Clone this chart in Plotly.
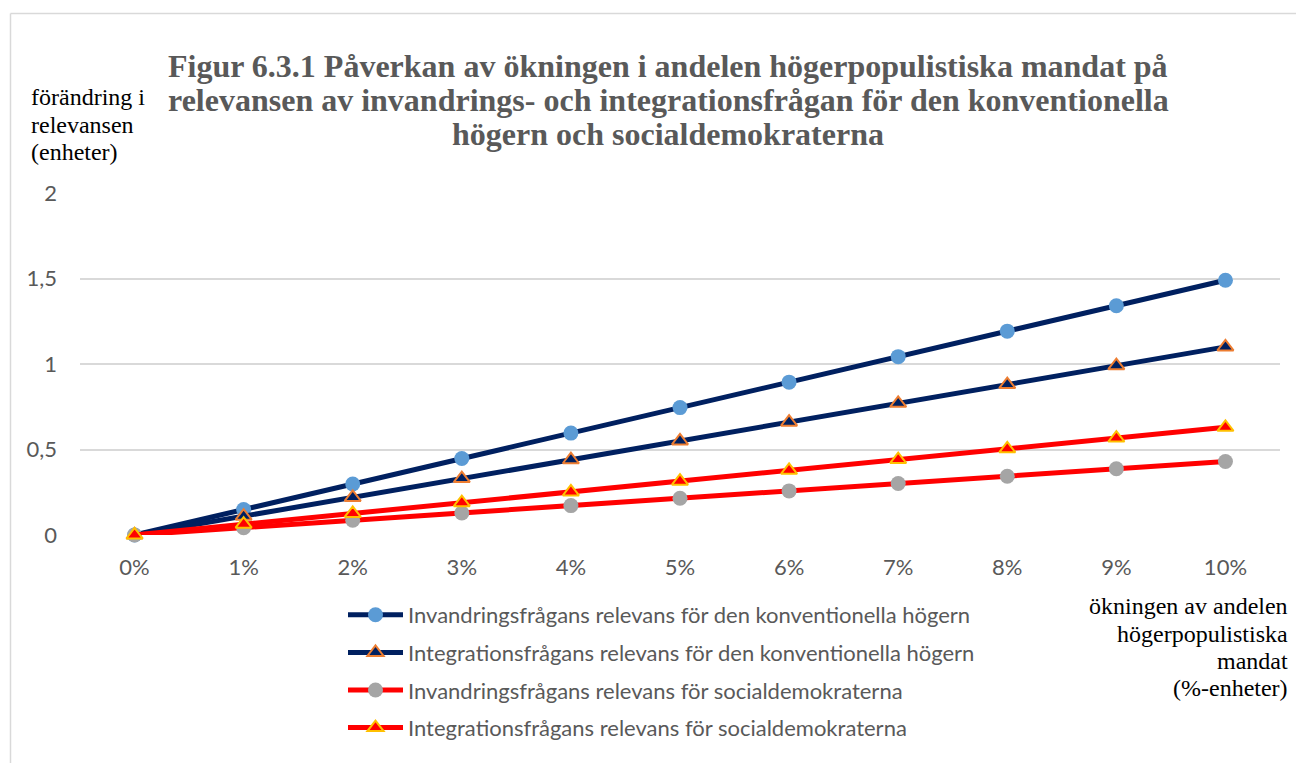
import plotly.graph_objects as go

categories = ["0%", "1%", "2%", "3%", "4%", "5%", "6%", "7%", "8%", "9%", "10%"]
invandring_hoger = [0, 0.149, 0.298, 0.447, 0.596, 0.745, 0.894, 1.043, 1.192, 1.341, 1.49]
integration_hoger = [0, 0.11, 0.22, 0.33, 0.44, 0.55, 0.66, 0.77, 0.88, 0.99, 1.10]
invandring_sd = [0, 0.043, 0.086, 0.129, 0.172, 0.215, 0.258, 0.301, 0.344, 0.387, 0.43]
integration_sd = [0, 0.063, 0.126, 0.189, 0.252, 0.315, 0.378, 0.441, 0.504, 0.567, 0.63]
series_names = [
    "Invandringsfrågans relevans för den konventionella högern",
    "Integrationsfrågans relevans för den konventionella högern",
    "Invandringsfrågans relevans för socialdemokraterna",
    "Integrationsfrågans relevans för socialdemokraterna",
]
y_ticks = [0, 0.5, 1, 1.5, 2]
y_ticktext = ["0", "0,5", "1", "1,5", "2"]
title_lines = [
    "Figur 6.3.1 Påverkan av ökningen i andelen högerpopulistiska mandat på",
    "relevansen av invandrings- och integrationsfrågan för den konventionella",
    "högern och socialdemokraterna",
]
y_label_lines = ["förändring i", "relevansen", "(enheter)"]
x_label_lines = ["ökningen av andelen", "högerpopulistiska", "mandat", "(%-enheter)"]

NAVY = "#002060"
RED = "#FF0000"
styles = [
    dict(line=NAVY, symbol="circle", fill="#5B9BD5", edge="#5B9BD5", size=15, ew=0),
    dict(line=NAVY, symbol="triangle-up", fill=NAVY, edge="#ED7D31", size=14, ew=2),
    dict(line=RED, symbol="circle", fill="#A5A5A5", edge="#A5A5A5", size=15, ew=0),
    dict(line=RED, symbol="triangle-up", fill=RED, edge="#FFC000", size=14, ew=2),
]
data = [invandring_hoger, integration_hoger, invandring_sd, integration_sd]

fig = go.Figure()
for i, (name, vals, st) in enumerate(zip(series_names, data, styles)):
    fig.add_trace(go.Scatter(
        x=categories, y=vals, name=name, mode="lines+markers",
        line=dict(color=st["line"], width=5),
        marker=dict(symbol=st["symbol"], color=st["fill"], size=st["size"],
                    line=dict(color=st["edge"], width=st["ew"])),
        cliponaxis=False, legendgroup=f"g{i}",
    ))

L, R, T, B = 80, 16, 193, 228
W, H = 1296, 763
pw, ph = W - L - R, H - T - B

def px(x):
    return (x - L) / pw

def py(y):
    return (H - B - y) / ph

SANS = "Lato"
SERIF = "Liberation Serif"
annotations = []
for line, yc in zip(title_lines, [66, 100, 134]):
    annotations.append(dict(text=line, xref="paper", yref="paper", x=px(668), y=py(yc),
                            xanchor="center", yanchor="middle", showarrow=False,
                            font=dict(family=SERIF, size=32, color="#595959", weight="bold")))
for line, yc in zip(y_label_lines, [97, 125, 152]):
    annotations.append(dict(text=line, xref="paper", yref="paper", x=px(29), y=py(yc),
                            xanchor="left", yanchor="middle", showarrow=False,
                            font=dict(family=SERIF, size=24, color="black")))
for line, yc in zip(x_label_lines, [606, 634, 661, 688]):
    annotations.append(dict(text=line, xref="paper", yref="paper", x=px(1290), y=py(yc),
                            xanchor="right", yanchor="middle", showarrow=False,
                            font=dict(family=SERIF, size=24, color="black")))

fig.update_layout(
    width=W, height=H,
    margin=dict(l=L, r=R, t=T, b=B, pad=0),
    paper_bgcolor="white", plot_bgcolor="white",
    font=dict(family=SANS, size=22, color="#595959"),
    showlegend=True,
    legend=dict(x=px(343), y=py(594), xanchor="left", yanchor="top",
                font=dict(family=SANS, size=22, color="#595959"),
                itemwidth=55, tracegroupgap=6, traceorder="grouped",
                bgcolor="rgba(0,0,0,0)"),
    xaxis=dict(type="category", range=[-0.5, 10.5], showgrid=False, zeroline=False,
               showline=False, ticks="", ticklabelstandoff=17,
               tickfont=dict(family=SANS, size=22, color="#595959")),
    yaxis=dict(range=[0, 2], tickvals=y_ticks, ticktext=y_ticktext,
               showgrid=True, gridcolor="#D9D9D9", gridwidth=1.5,
               zeroline=False, showline=False, ticks="", ticklabelstandoff=22,
               tickfont=dict(family=SANS, size=22, color="#595959")),
    annotations=annotations,
    shapes=[
        dict(type="line", xref="paper", yref="paper", x0=px(10.5), x1=px(1300),
             y0=py(13.5), y1=py(13.5), line=dict(color="#D9D9D9", width=1.5)),
        dict(type="line", xref="paper", yref="paper", x0=px(10.5), x1=px(10.5),
             y0=py(13.5), y1=py(770), line=dict(color="#D9D9D9", width=1.5)),
    ],
)

fig.write_html("out.html", config={"displayModeBar": False},
               post_script="document.body.style.margin='0';document.body.style.overflow='hidden';")
